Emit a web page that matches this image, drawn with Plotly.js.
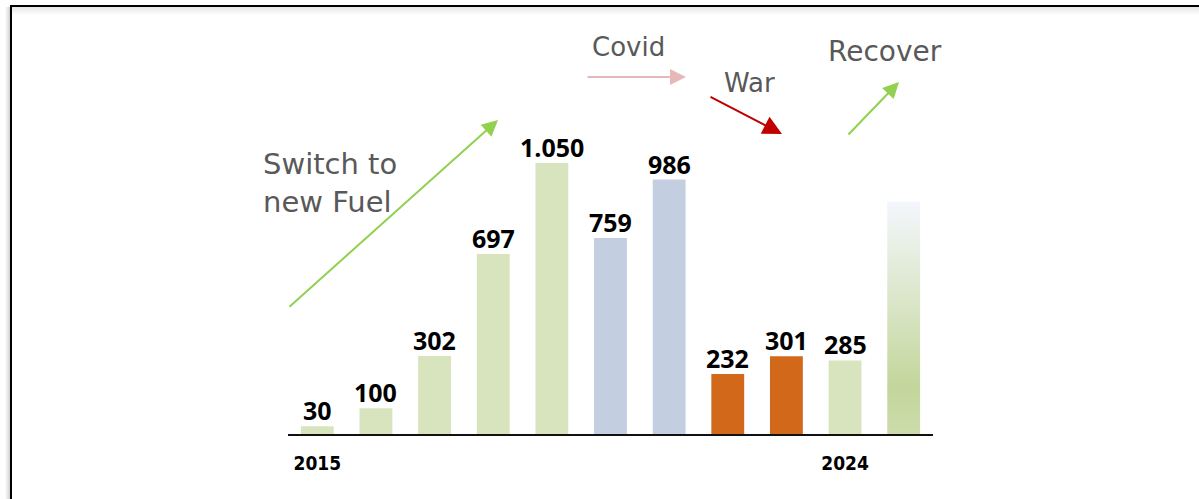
<!DOCTYPE html>
<html>
<head>
<meta charset="utf-8">
<script src="https://cdn.plot.ly/plotly-3.0.1.min.js"></script>
<style>
  html, body { margin: 0; padding: 0; background: #ffffff; }
  #wrap { position: relative; width: 1199px; height: 499px; overflow: hidden; background: #fff; }
  #frame { position: absolute; left: 10px; top: 5px; width: 1189px; height: 494px;
           border-top: 2px solid #000; border-left: 2px solid #000; box-sizing: border-box; }
  #shadowTop { position: absolute; left: 12px; top: 7px; width: 1187px; height: 8px;
           background: linear-gradient(to bottom, rgba(0,0,0,0.10), rgba(0,0,0,0)); }
  #shadowLeft { position: absolute; left: 5px; top: 7px; width: 5px; height: 492px;
           background: linear-gradient(to left, rgba(0,0,0,0.18), rgba(0,0,0,0)); }
  #chart { position: absolute; left: 0; top: 0; width: 1199px; height: 499px; }
</style>
</head>
<body>
<div id="wrap">
  <div id="shadowLeft"></div>
  <div id="frame"></div>
  <div id="shadowTop"></div>
  <div id="chart"></div>
</div>
<script>
// ---- data ----
const years = [2015, 2016, 2017, 2018, 2019, 2020, 2021, 2022, 2023, 2024];
const values = [30, 100, 302, 697, 1050, 759, 986, 232, 301, 285];
const phases = ["growth", "growth", "growth", "growth", "growth", "covid", "covid", "war", "war", "growth"];
const outlookYear = 2025;
const outlookValue = 900;
const tickYears = [2015, 2024];
const tickLabels = ["2015", "2024"];

// ---- styles ----
const phaseColors = { growth: "#D7E4BD", covid: "#C3CEE0", war: "#D2691A" };
const barWidth = 0.56;

const W = 1199, H = 499;
const margin = { l: 288, r: 266, t: 60, b: 65 };
const plotW = W - margin.l - margin.r, plotH = H - margin.t - margin.b;
const px = x => (x - margin.l) / plotW;            // pixel -> paper x
const py = y => (H - margin.b - y) / plotH;         // pixel -> paper y

// European thousands separator: 1050 -> "1.050"
const fmt = v => String(Math.round(v)).replace(/\B(?=(\d{3})+(?!\d))/g, ".");

const bars = {
  type: "bar",
  x: years,
  y: values,
  width: barWidth,
  marker: { color: phases.map(p => phaseColors[p]), line: { width: 0 } },
  hoverinfo: "x+y",
  showlegend: false
};

const half = barWidth / 2;
const outlook = {
  type: "scatter",
  mode: "lines",
  x: [outlookYear - half, outlookYear - half, outlookYear + half, outlookYear + half, outlookYear - half],
  y: [0, outlookValue, outlookValue, 0, 0],
  fill: "toself",
  line: { width: 0, color: "rgba(0,0,0,0)" },
  fillgradient: {
    type: "vertical",
    colorscale: [[0, "#CCDCAC"], [0.2, "#C3D69B"], [0.55, "#D9E5C6"], [1, "#F3F6FC"]]
  },
  hoverinfo: "skip",
  showlegend: false
};

const textFont = (size) => ({ family: "DejaVu Sans", size: size, color: "#595959" });

function arrow(x0, y0, x1, y1, color, size) {
  return {
    xref: "paper", yref: "paper",
    x: px(x1), y: py(y1),
    ax: x0 - x1, ay: y0 - y1,
    axref: "pixel", ayref: "pixel",
    text: "", showarrow: true,
    arrowhead: 2, arrowsize: size, arrowwidth: 2, arrowcolor: color,
    standoff: 0, startstandoff: 0
  };
}

const valueLabels = years.map((yr, i) => ({
  xref: "x", yref: "y", x: yr, y: values[i],
  xanchor: "center", yanchor: "bottom", yshift: -3,
  text: fmt(values[i]), showarrow: false,
  font: { family: "Open Sans", size: 25, weight: 700, color: "#000000" }
}));

const annotations = valueLabels.concat([
  { xref: "paper", yref: "paper", x: px(261), y: py(183), xanchor: "left", yanchor: "middle",
    text: "Switch to<br>new Fuel", showarrow: false, align: "left", font: textFont(29) },
  { xref: "paper", yref: "paper", x: px(590), y: py(47), xanchor: "left", yanchor: "middle",
    text: "Covid", showarrow: false, font: textFont(26) },
  { xref: "paper", yref: "paper", x: px(722), y: py(83), xanchor: "left", yanchor: "middle",
    text: "War", showarrow: false, font: textFont(26) },
  { xref: "paper", yref: "paper", x: px(826), y: py(52), xanchor: "left", yanchor: "middle",
    text: "Recover", showarrow: false, font: textFont(28) },
  arrow(288, 308, 498, 120, "#92D050", 1.6),
  arrow(586, 77, 686, 77, "#E6B9B8", 1.6),
  arrow(709, 96, 782, 134, "#C00000", 1.9),
  arrow(847, 136, 899, 82, "#92D050", 1.6)
]);

const layout = {
  width: W, height: H,
  margin: margin,
  paper_bgcolor: "rgba(0,0,0,0)",
  plot_bgcolor: "rgba(0,0,0,0)",
  showlegend: false,
  xaxis: {
    type: "linear",
    range: [2014.5, 2025.5],
    tickmode: "array",
    tickvals: tickYears,
    ticktext: tickLabels,
    ticks: "",
    showgrid: false,
    zeroline: false,
    showline: true,
    linecolor: "#111111",
    linewidth: 2,
    ticklabelstandoff: 11,
    tickfont: { family: "DejaVu Sans Condensed", size: 19, weight: 700, color: "#000000" },
    fixedrange: true
  },
  yaxis: {
    range: [0, plotH / 0.2581],
    visible: false,
    showgrid: false,
    zeroline: false,
    fixedrange: true
  },
  annotations: annotations
};

Plotly.newPlot("chart", [bars, outlook], layout, { displayModeBar: false, staticPlot: true });
</script>
</body>
</html>
